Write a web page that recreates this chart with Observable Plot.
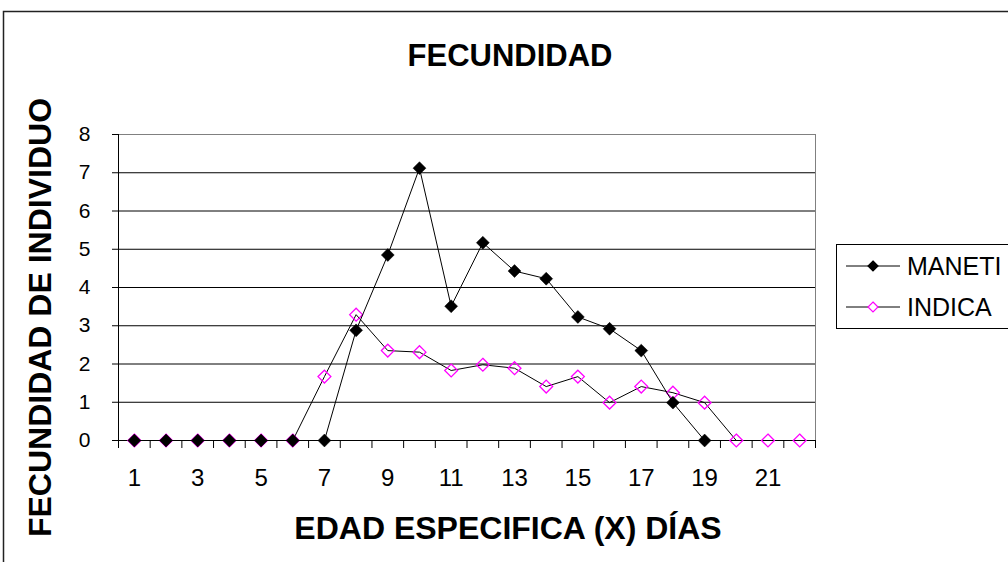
<!DOCTYPE html>
<html><head><meta charset="utf-8">
<script src="https://cdn.jsdelivr.net/npm/d3@7"></script>
<script src="https://cdn.jsdelivr.net/npm/@observablehq/plot@0.6"></script>
<style>body{margin:0;background:#fff} svg{display:block}</style>
</head><body><div id="chart"></div>
<script>
// ---- data ----
const dias = [1,2,3,4,5,6,7,8,9,10,11,12,13,14,15,16,17,18,19,20,21,22];
const maneti = [0,0,0,0,0,0,0,2.88,4.85,7.12,3.51,5.17,4.43,4.23,3.23,2.92,2.35,0.99,0,null,null,null];
const indica = [0,0,0,0,0,0,1.67,3.29,2.35,2.31,1.83,1.98,1.89,1.41,1.67,0.99,1.41,1.25,0.99,0,0,0];
const xTickLabels = [1,3,5,7,9,11,13,15,17,19,21];
const yTicks = [0,1,2,3,4,5,6,7,8];
const seriesNames = ["MANETI","INDICA"];
const titleText = "FECUNDIDAD";
const xTitle = "EDAD ESPECIFICA (X) DÍAS";
const yTitle = "FECUNDIDAD DE INDIVIDUO";

const manetiData = dias.map((d,i)=>({x:d,y:maneti[i]})).filter(d=>d.y!=null);
const indicaData = dias.map((d,i)=>({x:d,y:indica[i]})).filter(d=>d.y!=null);
const boundaries = d3.range(0.5, dias.length + 1, 1);

const FONT = "'Liberation Sans', Arial, sans-serif";

const chart = Plot.plot({
  width: 1008, height: 562,
  marginLeft: 118, marginRight: 193, marginTop: 134, marginBottom: 122,
  style: {fontFamily: FONT, fontSize: "21px", color: "#000", background: "#fff"},
  x: {type: "linear", domain: [0.5, dias.length + 0.5], axis: null},
  y: {domain: [0, 8], axis: null},
  marks: [
    Plot.gridY(yTicks, {stroke: "#000", strokeOpacity: 1}),
    Plot.frame({stroke: "#808080"}),
    Plot.axisY(yTicks, {tickSize: 6, tickPadding: 22, fontSize: 21, label: null}),
    Plot.axisX(boundaries, {tickSize: 8, tickFormat: () => "", label: null}),
    Plot.axisX(xTickLabels, {tickSize: 0, tickPadding: 28, fontSize: 24, label: null}),
    Plot.ruleY([0], {stroke: "#000"}),
    Plot.ruleX([0.5], {stroke: "#000"}),
    Plot.line(indicaData, {x: "x", y: "y", stroke: "#000", strokeWidth: 1}),
    Plot.dot(indicaData, {x: "x", y: "y", symbol: "diamond2", r: 5.8, stroke: "#FF00FF", fill: "none", strokeWidth: 1.3}),
    Plot.line(manetiData, {x: "x", y: "y", stroke: "#000", strokeWidth: 1}),
    Plot.dot(manetiData, {x: "x", y: "y", symbol: "diamond2", r: 5.8, fill: "#000", stroke: "#000", strokeWidth: 0.5}),
    Plot.text([titleText], {frameAnchor: "top", dx: 43, dy: -78, text: d => d, fontSize: 31, fontWeight: "bold", lineAnchor: "middle", textAnchor: "middle"}),
    Plot.text([xTitle], {frameAnchor: "bottom", dx: 41, dy: 88, text: d => d, fontSize: 32, fontWeight: "bold", lineAnchor: "middle", textAnchor: "middle"}),
    Plot.text([yTitle], {frameAnchor: "left", dx: -78, dy: 30, rotate: -90, text: d => d, fontSize: 32, fontWeight: "bold", lineAnchor: "middle", textAnchor: "middle"})
  ]
});

document.getElementById("chart").appendChild(chart);

// outer chart border
const svg = d3.select(chart);
svg.append("rect").attr("x", 3.5).attr("y", 11.5).attr("width", 1010).attr("height", 560)
  .attr("fill", "none").attr("stroke", "#222").attr("stroke-width", 1.5);

// legend
const lg = svg.append("g").attr("font-family", FONT).attr("text-anchor", "start");
lg.append("rect").attr("x", 836.5).attr("y", 244.5).attr("width", 200).attr("height", 84)
  .attr("fill", "#fff").attr("stroke", "#000").attr("stroke-width", 1);
const legendRows = [
  {name: seriesNames[0], y: 266, fill: "#000", stroke: "#000"},
  {name: seriesNames[1], y: 307, fill: "#fff", stroke: "#FF00FF"}
];
legendRows.forEach(r => {
  lg.append("line").attr("x1", 846).attr("x2", 900).attr("y1", r.y).attr("y2", r.y).attr("stroke", "#000");
  lg.append("path").attr("d", `M873,${r.y-5}L878,${r.y}L873,${r.y+5}L868,${r.y}Z`)
    .attr("fill", r.fill).attr("stroke", r.stroke).attr("stroke-width", 1.2);
  lg.append("text").attr("x", 907).attr("y", r.y).attr("dy", "0.35em")
    .attr("text-anchor", "start").attr("font-size", 25).text(r.name);
});
</script>
</body></html>
